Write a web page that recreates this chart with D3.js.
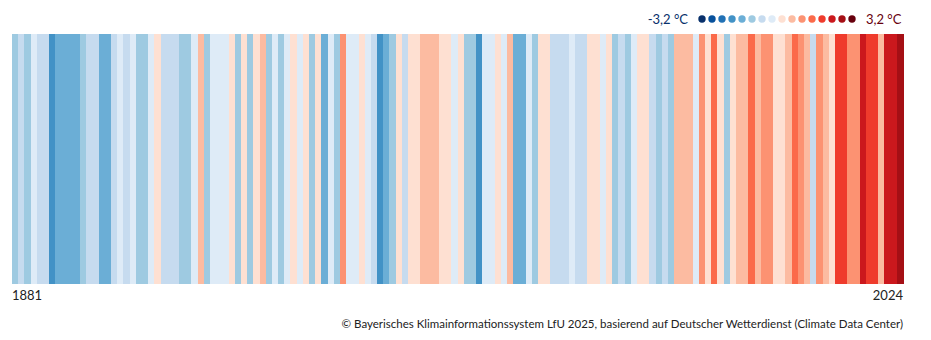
<!DOCTYPE html>
<html>
<head>
<meta charset="utf-8">
<script src="https://cdn.jsdelivr.net/npm/d3@7"></script>
<style>
  body { margin: 0; background: #fff; }
  text { font-family: Lato, "Open Sans", sans-serif; }
</style>
</head>
<body>
<div id="chart"></div>
<script>
// Jahresmitteltemperatur Bayern, Abweichung in °C (1881-2024)
const firstYear = 1881;
const anomalies = [
  -1.0, -0.6, -1.0, -0.2, -0.6, -0.6, -1.8, -1.4, -1.4, -1.4,
  -1.4, -1.0, -0.6, -0.6, -1.4, -1.4, -0.6, -0.2, -0.6, -0.2,
  -1.0, -1.0, -0.2, 0.2, -0.6, -0.6, -0.6, -1.0, -1.0, -0.2,
  0.6, -1.0, -0.2, -0.2, -0.2, 0.2, -1.0, 0.2, -1.0, 0.2,
  0.6, -1.0, -0.2, -1.0, -0.2, 0.2, -0.2, 0.2, -1.0, 0.2,
  -1.4, -0.2, -1.0, 1.0, -0.2, -0.2, 0.2, -0.2, -0.6, -1.8,
  -1.4, -1.0, 0.2, -0.6, 0.2, 0.2, 0.6, 0.6, 0.6, 0.2,
  0.2, -0.2, 0.2, -1.0, -1.0, -1.8, -0.2, -0.2, 0.2, -0.2,
  0.6, -1.4, -1.4, -0.2, -1.0, 0.2, 0.2, -0.6, -0.6, -0.6,
  -0.2, -0.6, -0.6, 0.2, 0.2, -0.2, 0.2, -1.0, -0.6, -1.0,
  -0.2, 0.2, 0.2, -0.6, -1.0, -0.6, -1.0, 0.6, 0.6, 0.6,
  -0.2, 1.0, 0.2, 1.4, 0.2, -1.0, 0.2, 0.6, 0.6, 1.4,
  0.6, 1.0, 1.0, 0.2, 0.2, 0.6, 1.4, 1.0, 0.6, -0.6,
  1.0, 0.6, 0.2, 1.8, 1.8, 1.0, 1.0, 2.2, 1.8, 1.8,
  0.6, 2.2, 2.2, 2.6
];
const years = anomalies.map((d, i) => firstYear + i);

const stripeColors = [
  "#08306b", "#08519c", "#2171b5", "#4292c6", "#6baed6", "#9ecae1", "#c6dbef", "#deebf7",
  "#fee0d2", "#fcbba1", "#fc9272", "#fb6a4a", "#ef3b2c", "#cb181d", "#a50f15", "#67000d"
];
const legendMin = -3.2, legendMax = 3.2;
const legendLabels = ["-3,2 °C", "3,2 °C"];
const sourceText = "© Bayerisches Klimainformationssystem LfU 2025, basierend auf Deutscher Wetterdienst (Climate Data Center)";

const width = 931, height = 340;
const margin = { top: 34, right: 28, bottom: 56, left: 12 };

const svg = d3.select("#chart")
  .append("svg")
  .attr("width", width)
  .attr("height", height);

// scales
const xScale = d3.scaleBand()
  .domain(years)
  .range([margin.left, width - margin.right])
  .paddingInner(0).paddingOuter(0);

const colorScale = d3.scaleQuantize()
  .domain([legendMin, legendMax])
  .range(stripeColors);

// stripes
svg.append("g")
  .selectAll("rect")
  .data(years)
  .join("rect")
    .attr("x", d => xScale(d))
    .attr("y", margin.top)
    .attr("width", xScale.bandwidth() + 0.5)
    .attr("height", height - margin.top - margin.bottom)
    .attr("fill", (d, i) => colorScale(anomalies[i]))
    .attr("shape-rendering", "crispEdges");

// year labels
svg.append("text")
  .text(years[0])
  .attr("x", xScale(years[0]))
  .attr("y", 300)
  .attr("font-size", 13)
  .attr("fill", "#222");

svg.append("text")
  .text(years[years.length - 1])
  .attr("x", xScale(years[years.length - 1]) + xScale.bandwidth())
  .attr("y", 300)
  .attr("text-anchor", "end")
  .attr("font-size", 13)
  .attr("fill", "#222");

// source
svg.append("text")
  .text(sourceText)
  .attr("x", width - margin.right)
  .attr("y", 328)
  .attr("text-anchor", "end")
  .attr("font-size", 11.5)
  .attr("fill", "#222");

// legend
const legendX = d3.scalePoint()
  .domain(d3.range(stripeColors.length))
  .range([702, 852]);

svg.append("g")
  .selectAll("circle")
  .data(stripeColors)
  .join("circle")
    .attr("cx", (d, i) => legendX(i))
    .attr("cy", 19)
    .attr("r", 3.7)
    .attr("fill", d => d);

svg.append("text")
  .text(legendLabels[0])
  .attr("x", 688)
  .attr("y", 23.5)
  .attr("text-anchor", "end")
  .attr("font-size", 13)
  .attr("fill", stripeColors[0]);

svg.append("text")
  .text(legendLabels[1])
  .attr("x", 866)
  .attr("y", 23.5)
  .attr("font-size", 13)
  .attr("fill", stripeColors[stripeColors.length - 1]);
</script>
</body>
</html>
